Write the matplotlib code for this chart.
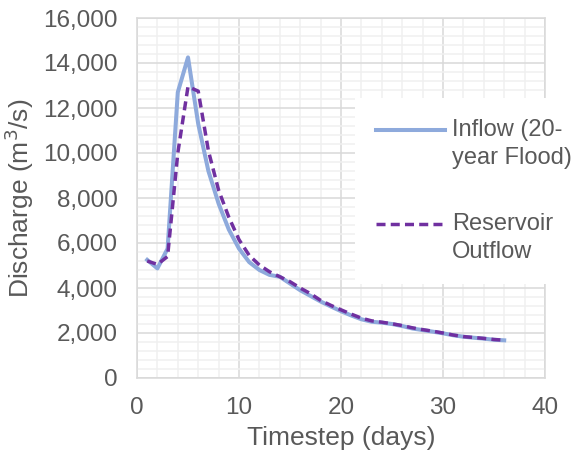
"""Reservoir routing of a 20-year flood: inflow vs. reservoir outflow."""

import matplotlib
matplotlib.use("Agg")
import matplotlib.pyplot as plt
from matplotlib.ticker import FuncFormatter, MultipleLocator

plt.rcParams["font.family"] = ["Liberation Sans", "DejaVu Sans"]

TEXT = "#595959"

timestep = list(range(1, 37))
inflow = [5250, 4870, 5750, 12700, 14250, 11300, 9200, 7750, 6600, 5750,
          5150, 4800, 4580, 4500, 4200, 3900, 3650, 3400, 3180, 2970,
          2780, 2610, 2500, 2460, 2400, 2310, 2200, 2130, 2060, 1985,
          1900, 1835, 1790, 1750, 1700, 1675]
outflow = [5200, 5050, 5400, 10000, 12950, 12750, 10100, 8350, 7150, 6150,
           5450, 5020, 4720, 4500, 4280, 4000, 3750, 3450, 3230, 3030,
           2840, 2660, 2540, 2480, 2410, 2330, 2230, 2150, 2080, 2000,
           1910, 1840, 1800, 1760, 1710, 1680]

labels = ["Inflow (20-\nyear Flood)", "Reservoir\nOutflow"]


def main() -> None:
    fig = plt.figure(figsize=(5.73, 4.59), dpi=100)
    ax = fig.add_axes([137 / 573, 1 - 378 / 459, (545 - 137) / 573, (378 - 18) / 459])

    ax.plot(timestep, inflow, color="#8eaadc", lw=2.9, label=labels[0], zorder=3)
    ax.plot(timestep, outflow, color="#7030a0", lw=2.5, linestyle=(0, (2.6, 1.5)),
            label=labels[1], zorder=4)

    ax.set_xlim(0, 40)
    ax.set_ylim(0, 16000)
    ax.xaxis.set_major_locator(MultipleLocator(10))
    ax.xaxis.set_minor_locator(MultipleLocator(2))
    ax.yaxis.set_major_locator(MultipleLocator(2000))
    ax.yaxis.set_minor_locator(MultipleLocator(400))
    ax.yaxis.set_major_formatter(FuncFormatter(lambda v, _: f"{v:,.0f}"))

    ax.grid(True, which="minor", color="#f0f0f0", lw=1.1, zorder=0)
    ax.grid(True, which="major", color="#d9d9d9", lw=1.1, zorder=1)
    ax.set_axisbelow(True)
    for side in ax.spines.values():
        side.set_color("#d9d9d9")
        side.set_linewidth(1.1)

    ax.tick_params(which="both", length=0, labelsize=17.5, labelcolor=TEXT)
    ax.tick_params(axis="y", pad=14)
    ax.tick_params(axis="x", pad=14)

    ax.set_xlabel("Timestep (days)", fontsize=19, color=TEXT, labelpad=5)
    ax.set_ylabel("Discharge (m$^3$/s)", fontsize=19, color=TEXT, labelpad=5)

    leg = fig.legend(loc="upper left", bbox_to_anchor=(355 / 573, 1 - 98 / 459),
                     fontsize=17, frameon=True, facecolor="white", edgecolor="none",
                     framealpha=1, fancybox=False, borderaxespad=0, borderpad=0.9,
                     handlelength=2.9, handletextpad=0.3, labelspacing=1.85)
    for t in leg.get_texts():
        t.set_color(TEXT)
        t.set_linespacing(1.35)
    # Excel puts the key next to the first line of each label
    for line in leg.get_lines():
        line.set_ydata([y + 0.6 * 17 for y in line.get_ydata()])

    fig.savefig("out.png", dpi=100)


if __name__ == "__main__":
    main()
